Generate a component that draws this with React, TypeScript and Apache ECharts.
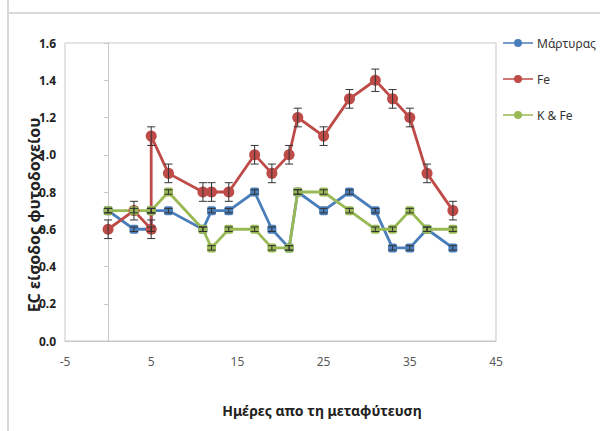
import React, { useEffect, useRef } from "react";
import * as echarts from "echarts";

const days = [0, 3, 5, 5, 7, 11, 12, 14, 17, 19, 21, 22, 25, 28, 31, 33, 35, 37, 40];
const controlValues = [0.7, 0.6, 0.6, 0.7, 0.7, 0.6, 0.7, 0.7, 0.8, 0.6, 0.5, 0.8, 0.7, 0.8, 0.7, 0.5, 0.5, 0.6, 0.5];
const feValues = [0.6, 0.7, 0.6, 1.1, 0.9, 0.8, 0.8, 0.8, 1.0, 0.9, 1.0, 1.2, 1.1, 1.3, 1.4, 1.3, 1.2, 0.9, 0.7];
const kfeValues = [0.7, 0.7, 0.7, 0.7, 0.8, 0.6, 0.5, 0.6, 0.6, 0.5, 0.5, 0.8, 0.8, 0.7, 0.6, 0.6, 0.7, 0.6, 0.6];
const feErr = [0.05, 0.05, 0.05, 0.05, 0.05, 0.05, 0.05, 0.05, 0.05, 0.05, 0.05, 0.05, 0.05, 0.05, 0.06, 0.05, 0.05, 0.05, 0.05];
const smallErr = 0.012;

const seriesNames = ["Μάρτυρας", "Fe", "K & Fe"];
const colors = ["#4A7EBB", "#BE4B48", "#98B954"];
const xTitle = "Ημέρες απο τη μεταφύτευση";
const yTitle = "EC είσοδος φυτοδοχείου";

const FONT = "'Noto Sans', 'Open Sans', sans-serif";
const LEGEND_ICON = "path://M0,4.2H30V5.8H0Z M15,9A4,4 0 1,1 15,1A4,4 0 1,1 15,9Z";

export default function App() {
  const ref = useRef<HTMLDivElement>(null);
  useEffect(() => {
    if (!ref.current) return;
    const chart = echarts.init(ref.current, null, { renderer: "svg" });
    const valueSets = [controlValues, feValues, kfeValues];
    const lineSeries = valueSets.map((vals, i) => ({
      name: seriesNames[i],
      type: "line",
      data: days.map((d, j) => [d, vals[j]]),
      symbol: i === 1 ? "circle" : "roundRect",
      symbolSize: i === 1 ? 11 : 9,
      lineStyle: { color: colors[i], width: 2.8 },
      itemStyle: { color: colors[i] },
      z: 2,
    }));
    const errData: number[][] = [];
    days.forEach((d, j) => {
      errData.push([d, feValues[j] - feErr[j], feValues[j] + feErr[j]]);
      errData.push([d, controlValues[j] - smallErr, controlValues[j] + smallErr]);
      errData.push([d, kfeValues[j] - smallErr, kfeValues[j] + smallErr]);
    });
    const errSeries = {
      type: "custom",
      name: "err",
      data: errData,
      z: 5,
      silent: true,
      encode: { x: 0, y: [1, 2] },
      renderItem: (params: any, api: any) => {
        const x = api.value(0);
        const lo = api.coord([x, api.value(1)]);
        const hi = api.coord([x, api.value(2)]);
        const w = 4;
        const style = { stroke: "#333", lineWidth: 1 };
        return {
          type: "group",
          children: [
            { type: "line", shape: { x1: lo[0], y1: lo[1], x2: hi[0], y2: hi[1] }, style },
            { type: "line", shape: { x1: lo[0] - w, y1: lo[1], x2: lo[0] + w, y2: lo[1] }, style },
            { type: "line", shape: { x1: hi[0] - w, y1: hi[1], x2: hi[0] + w, y2: hi[1] }, style },
          ],
        };
      },
    };
    chart.setOption({
      animation: false,
      backgroundColor: "#ffffff",
      grid: {
        left: 65,
        right: 104,
        top: 43,
        bottom: 90,
        show: true,
        borderColor: "#c8c8c8",
        borderWidth: 1,
      },
      legend: {
        data: seriesNames.map((n, i) => ({ name: n, icon: LEGEND_ICON, itemStyle: { color: colors[i] } })),
        orient: "vertical",
        left: 503,
        top: 37,
        padding: 0,
        itemWidth: 30,
        itemHeight: 10,
        itemGap: 24,
        textStyle: { fontFamily: FONT, fontSize: 12, color: "#333", padding: [0, 0, 0, -1] },
      },
      xAxis: {
        type: "value",
        min: -5,
        max: 45,
        interval: 10,
        axisLine: { show: true, lineStyle: { color: "#c8c8c8" } },
        axisTick: { show: false },
        splitLine: { show: false },
        axisLabel: { fontFamily: FONT, fontSize: 12, color: "#595959", margin: 14 },
      },
      yAxis: {
        type: "value",
        min: 0,
        max: 1.6,
        interval: 0.2,
        axisLine: { show: true, onZero: true, lineStyle: { color: "#c8c8c8" } },
        axisTick: { show: true, length: 4, lineStyle: { color: "#c8c8c8" } },
        splitLine: { show: false },
        axisLabel: {
          fontFamily: FONT,
          fontSize: 12,
          fontWeight: "bold",
          color: "#222",
          margin: 9,
          formatter: (v: number) => v.toFixed(1),
        },
      },
      graphic: [
        { type: "line", shape: { x1: 8, y1: 0, x2: 8, y2: 431 }, style: { stroke: "#d9d9d9", lineWidth: 2 } },
        { type: "line", shape: { x1: 8, y1: 13, x2: 600, y2: 13 }, style: { stroke: "#d9d9d9", lineWidth: 2 } },
        {
          type: "text",
          x: 322,
          y: 410,
          style: {
            text: xTitle,
            fontFamily: FONT,
            fontSize: 14,
            fontWeight: "bold",
            fill: "#222",
            align: "center",
            verticalAlign: "middle",
          },
        },
        {
          type: "text",
          x: 34,
          y: 215,
          rotation: Math.PI / 2,
          style: {
            text: yTitle,
            fontFamily: FONT,
            fontSize: 16,
            fontWeight: "bold",
            fill: "#222",
            align: "center",
            verticalAlign: "middle",
          },
        },
      ],
      series: [...lineSeries, errSeries],
    });
    return () => chart.dispose();
  }, []);
  return (
    <div
      ref={ref}
      style={{ position: "fixed", left: 0, top: 0, width: 600, height: 431 }}
    />
  );
}
